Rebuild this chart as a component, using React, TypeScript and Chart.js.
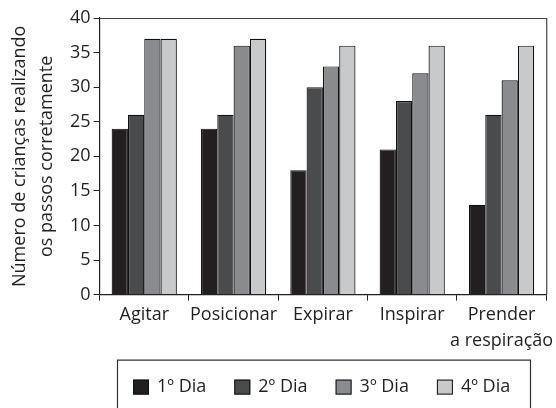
import React, { useEffect, useRef } from "react";
import { Chart, registerables } from "chart.js";

Chart.register(...registerables);

const categories: (string | string[])[] = ["Agitar", "Posicionar", "Expirar", "Inspirar", ["Prender", "a respiração"]];
const seriesLabels = ["1º Dia", "2º Dia", "3º Dia", "4º Dia"];
const dia1 = [24, 24, 18, 21, 13];
const dia2 = [26, 26, 30, 28, 26];
const dia3 = [37, 36, 33, 32, 31];
const dia4 = [37, 37, 36, 36, 36];
const seriesColors = ["#231f20", "#4a4b4d", "#8a8b8e", "#c8c9cb"];
const yTicks = [0, 5, 10, 15, 20, 25, 30, 35, 40];
const yTitle = ["Número de crianças realizando", "os passos corretamente"];

const FONT = "'Open Sans', sans-serif";
const TEXT = "#231f20";

const framePlugin = {
  id: "frame",
  afterDraw(chart: any) {
    const { ctx, chartArea } = chart;
    ctx.save();
    ctx.strokeStyle = "#444";
    ctx.lineWidth = 1.2;
    ctx.beginPath();
    ctx.moveTo(chartArea.left, chartArea.top + 0.5);
    ctx.lineTo(chartArea.right + 0.5, chartArea.top + 0.5);
    ctx.lineTo(chartArea.right + 0.5, chartArea.bottom);
    ctx.stroke();
    ctx.restore();
  },
};

const boxLegendPlugin = {
  id: "boxLegend",
  afterDraw(chart: any) {
    const { ctx, chartArea } = chart;
    const boxTop = chartArea.bottom + 65.5;
    const boxLeft = 117.5;
    const boxRight = 530.5;
    ctx.save();
    ctx.strokeStyle = "#333";
    ctx.lineWidth = 1.2;
    ctx.beginPath();
    ctx.moveTo(boxLeft, chart.height + 5);
    ctx.lineTo(boxLeft, boxTop);
    ctx.lineTo(boxRight, boxTop);
    ctx.lineTo(boxRight, chart.height + 5);
    ctx.stroke();
    const itemStart = 133;
    const itemStep = 101.3;
    const cy = boxTop + 27;
    ctx.font = `18px ${FONT}`;
    ctx.textBaseline = "middle";
    ctx.fillStyle = TEXT;
    chart.data.datasets.forEach((ds: any, i: number) => {
      const x = itemStart + i * itemStep;
      ctx.fillStyle = ds.backgroundColor;
      ctx.fillRect(x, cy - 7.5, 16, 15);
      ctx.strokeStyle = "#111";
      ctx.lineWidth = 1;
      ctx.strokeRect(x + 0.5, cy - 7, 15, 14);
      ctx.fillStyle = TEXT;
      ctx.fillText(ds.label, x + 24, cy);
    });
    ctx.restore();
  },
};

export default function App() {
  const ref = useRef<HTMLCanvasElement | null>(null);
  useEffect(() => {
    if (!ref.current) return;
    const datasets = [dia1, dia2, dia3, dia4].map((d, i) => ({
      label: seriesLabels[i],
      data: d,
      backgroundColor: seriesColors[i],
      borderColor: "#111",
      borderWidth: 1.2,
      barPercentage: 1,
      categoryPercentage: 0.73,
    }));
    const chart = new Chart(ref.current, {
      type: "bar",
      data: { labels: categories as any, datasets },
      options: {
        animation: false,
        responsive: false,
        maintainAspectRatio: false,
        devicePixelRatio: 1,
        layout: { padding: { left: 2, right: 9, top: 18, bottom: 53 } },
        plugins: { legend: { display: false }, tooltip: { enabled: false } },
        scales: {
          x: {
            grid: { display: true, offset: true, drawOnChartArea: false, tickLength: 6, color: "#222", lineWidth: 1 },
            border: { display: true, color: "#222", width: 1.2 },
            ticks: { font: { family: FONT, size: 18, lineHeight: 1.4 }, color: TEXT, padding: 2, maxRotation: 0, autoSkip: false },
          },
          y: {
            min: 0,
            max: 40,
            afterBuildTicks: (scale: any) => {
              scale.ticks = yTicks.map((v) => ({ value: v }));
            },
            grid: { display: true, drawOnChartArea: false, tickLength: 6, color: "#222", lineWidth: 1 },
            border: { display: true, color: "#222", width: 1.2 },
            ticks: { font: { family: FONT, size: 18 }, color: TEXT, padding: 3 },
            title: {
              display: true,
              text: yTitle,
              font: { family: FONT, size: 18, lineHeight: 1.5 },
              color: TEXT,
              padding: { top: 4, bottom: 7 },
            },
          },
        },
      },
      plugins: [framePlugin, boxLegendPlugin],
    });
    return () => chart.destroy();
  }, []);
  return (
    <div style={{ position: "fixed", left: 0, top: 0, width: 556, height: 408, background: "#fff" }}>
      <canvas ref={ref} width={556} height={408} style={{ width: 556, height: 408, display: "block" }} />
    </div>
  );
}
